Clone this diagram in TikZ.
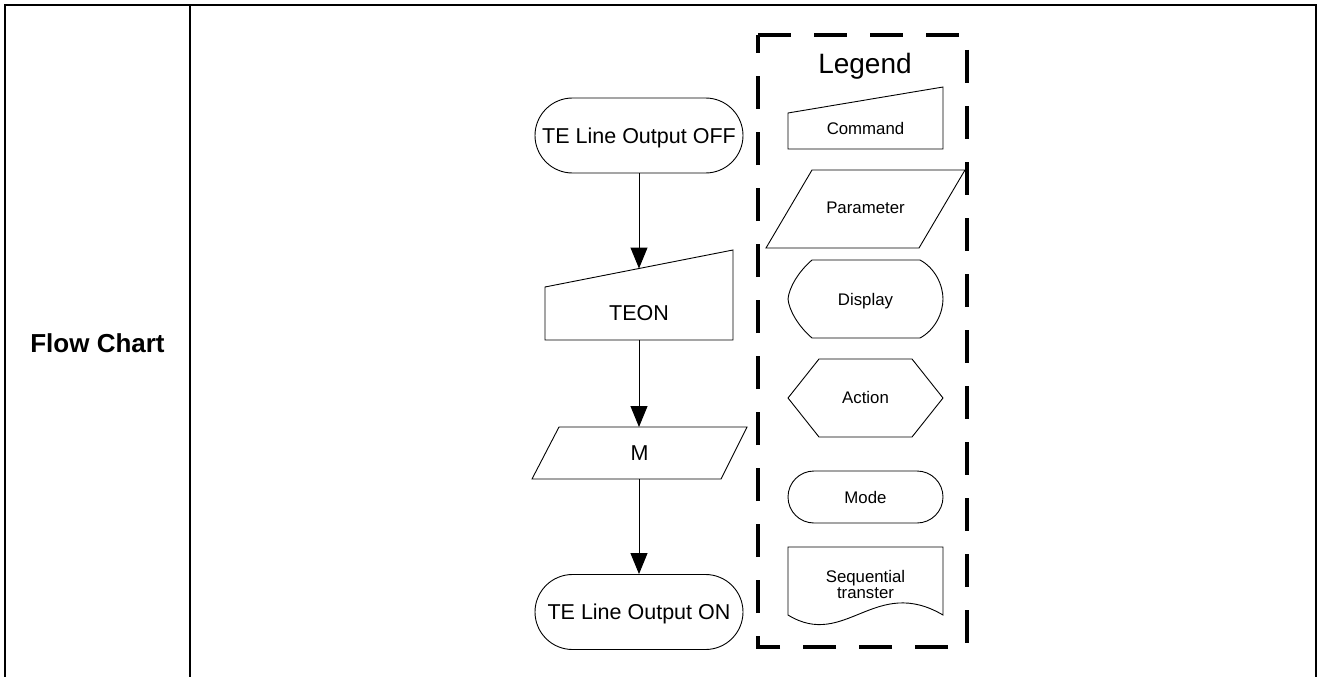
\documentclass[tikz,border=0pt]{standalone}
\usepackage{fontspec}
\setmainfont{Liberation Sans}
\usetikzlibrary{shapes.misc,arrows.meta}

\begin{document}
\begin{tikzpicture}[x=1pt,y=-1pt,
  shapeline/.style={draw=black, line width=0.9pt, line join=miter},
  flowfont/.style={font=\fontsize{21.5pt}{25pt}\selectfont},
  legfont/.style={font=\fontsize{16.8pt}{19pt}\selectfont},
  term/.style={rounded rectangle, shapeline, flowfont, minimum width=208pt, minimum height=75pt,
    inner sep=0pt, text height=15.4pt, text depth=0pt},
  modebox/.style={rounded rectangle, shapeline, legfont, minimum width=155pt, minimum height=52pt,
    inner sep=0pt, text height=12pt, text depth=0pt},
  flowtxt/.style={flowfont, inner sep=0pt, anchor=base},
  legtxt/.style={legfont, inner sep=0pt, anchor=base},
  legtitle/.style={font=\fontsize{28pt}{30pt}\selectfont, inner sep=0pt, anchor=base},
  celltxt/.style={font=\bfseries\fontsize{26pt}{30pt}\selectfont, inner sep=0pt, anchor=base},
  flowarrow/.style={draw=black, line width=1pt, -{Triangle[length=21pt,width=17pt]}},
  tableline/.style={draw=black, line width=2pt},
  legendbox/.style={draw=black, line width=4pt, dash pattern=on 33pt off 23pt}
]
\useasboundingbox (0,0) rectangle (1318,677);
\fill[white] (0,0) rectangle (1318,677);

% table
\draw[tableline] (5,678) -- (5,5) -- (1316,5) -- (1316,678);
\draw[tableline] (190,5) -- (190,678);
\node[celltxt] (title) at (97.5,352) {Flow Chart};

% flow chart
\node[term] (off) at (639,135.5) {TE Line Output OFF};

\draw[shapeline] (545,287) -- (733,250) -- (733,340) -- (545,340) -- cycle;
\node[flowtxt] (teon) at (639,320) {TEON};
\coordinate (teonin) at (639,268.5);
\coordinate (teonout) at (639,340);

\draw[shapeline] (559,427) -- (747,427) -- (721,479) -- (532,479) -- cycle;
\node[flowtxt] (m) at (639.5,460) {M};
\coordinate (min) at (639,427);
\coordinate (mout) at (639,479);

\node[term] (on) at (639,612) {TE Line Output ON};

\draw[flowarrow] (off.south) -- (teonin);
\draw[flowarrow] (teonout) -- (min);
\draw[flowarrow] (mout) -- (on.north);

% legend
\draw[legendbox] (758,35) -- (967,35) -- (967,647) -- (758,647) -- cycle;
\node[legtitle] (legend) at (865,73.3) {Legend};

\draw[shapeline] (788,113) -- (943,87) -- (943,149) -- (788,149) -- cycle;
\node[legtxt] (cmd) at (865.5,135) {Command};

\draw[shapeline] (812,170) -- (965,170) -- (919,248) -- (766,248) -- cycle;
\node[legtxt] (par) at (865.5,213.3) {Parameter};

\draw[shapeline] (812,260) -- (920,260) .. controls (935,268) and (943,285) .. (943,299)
  .. controls (943,313) and (935,330) .. (920,338) -- (812,338)
  .. controls (798,326) and (789,310) .. (788,299)
  .. controls (789,288) and (798,272) .. (812,260) -- cycle;
\node[legtxt] (disp) at (865.5,305) {Display};

\draw[shapeline] (788,398) -- (819,359) -- (912,359) -- (943,398) -- (912,437) -- (819,437) -- cycle;
\node[legtxt] (act) at (865.5,403.3) {Action};

\node[modebox] (mode) at (865.5,497) {Mode};

\draw[shapeline] (788,547) -- (943,547) -- (943,615) .. controls (875,575) and (845,650) .. (788,615) -- cycle;
\node[legtxt] (seqa) at (865.5,582) {Sequential};
\node[legtxt] (seqb) at (865.5,598.6) {transter};
\end{tikzpicture}
\end{document}
